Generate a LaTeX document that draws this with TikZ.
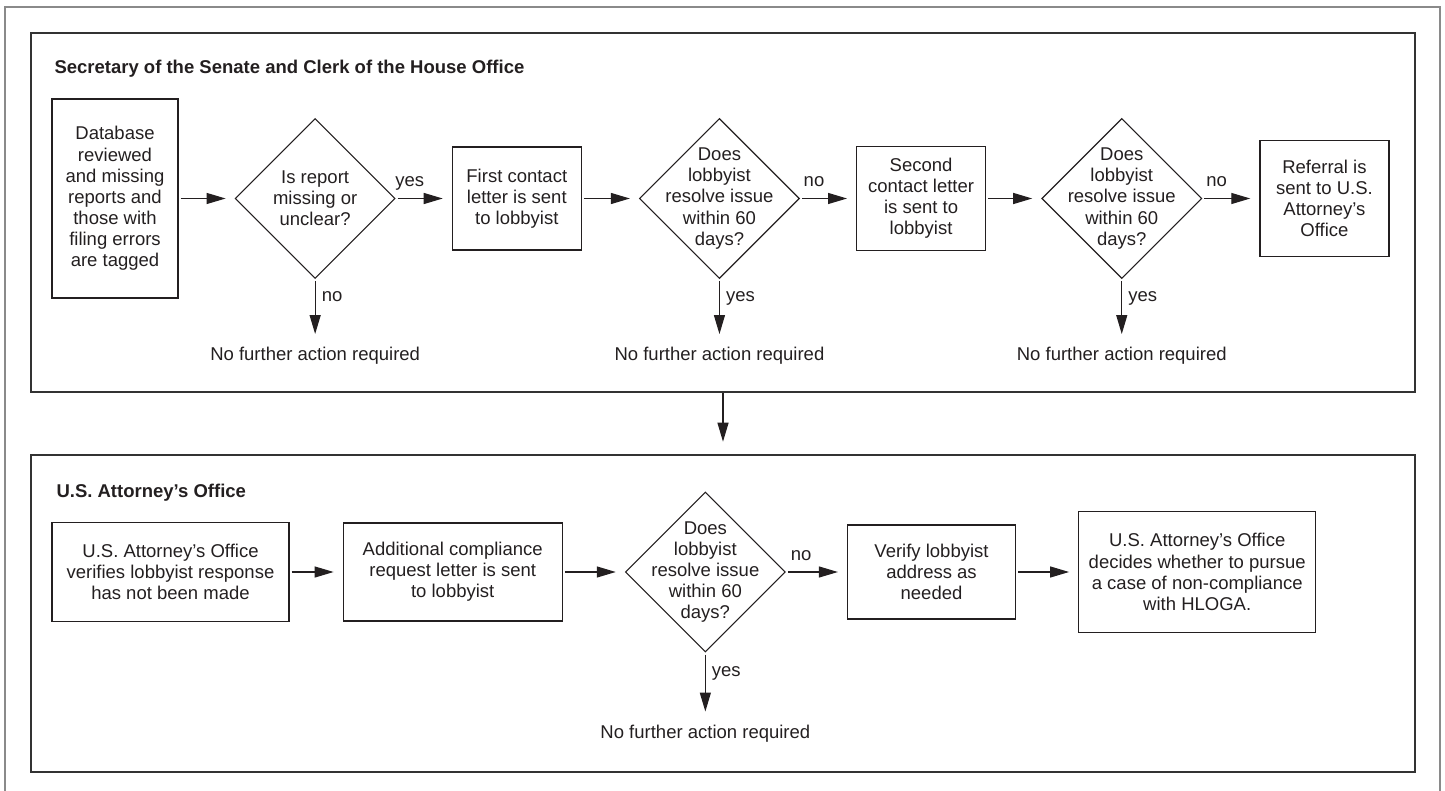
\documentclass[tikz,border=0pt]{standalone}
\usepackage{fontspec}
\setmainfont{Liberation Sans}
\usetikzlibrary{arrows.meta,positioning,shapes.geometric}
\definecolor{ink}{HTML}{231F20}
\definecolor{rule}{HTML}{333333}
\definecolor{framegray}{HTML}{8A8A8A}

\begin{document}
\begin{tikzpicture}[
  x=1pt, y=-1pt,
  font=\fontsize{18.5pt}{21.1pt}\selectfont,
  text=ink,
  box/.style={draw=ink, line width=1.2pt, align=center, inner sep=2pt},
  decision/.style={diamond, draw=ink, line width=1.1pt, align=center, minimum size=160pt, inner sep=-14pt},
  panel/.style={draw=rule, line width=2.6pt, inner sep=0pt},
  flow/.style={-{Triangle[length=19pt,width=11pt]}, line width=1.2pt, draw=ink, shorten >=9pt, shorten <=2pt},
  lbl/.style={inner sep=1pt, text depth=0pt},
  note/.style={inner sep=0pt},
  heading/.style={font=\fontsize{18.5pt}{21.1pt}\selectfont\bfseries}
]
\useasboundingbox (0,0) rectangle (1445,791);
\draw[framegray, line width=1.2pt] (5,7) rectangle (1440,800);

% Office panels
\node[panel, minimum width=1384pt, minimum height=359pt] (senate) at (723,212.5) {};
\node[panel, minimum width=1384pt, minimum height=317pt] (attorney) at (723,613.5) {};
\node[heading, anchor=base west] (senatetitle) at (51,74) {Secretary of the Senate and Clerk of the House Office};
\node[heading, anchor=base west] (attorneytitle) at (53,497) {U.S. Attorney’s Office};

% Senate and House steps
\node[box, minimum width=126pt, minimum height=199pt] (db) at (115,198.5) {Database\\reviewed\\and missing\\reports and\\those with\\filing errors\\are tagged};
\node[decision, right=56pt of db] (d1) {Is report\\missing or\\unclear?};
\node[box, minimum width=129pt, minimum height=103pt, right=56pt of d1] (first) {First contact\\letter is sent\\to lobbyist};
\node[decision, right=57pt of first] (d2) {Does\\lobbyist\\resolve issue\\within 60\\days?};
\node[box, minimum width=129pt, minimum height=104pt, right=56pt of d2] (second) {Second\\contact letter\\is sent to\\lobbyist};
\node[decision, right=55pt of second] (d3) {Does\\lobbyist\\resolve issue\\within 60\\days?};
\node[box, minimum width=129pt, minimum height=116pt, right=57pt of d3] (referral) {Referral is\\sent to U.S.\\Attorney’s\\Office};
\node[note, below=68pt of d1] (stop1) {No further action required};
\node[note, below=68pt of d2] (stop2) {No further action required};
\node[note, below=68pt of d3] (stop3) {No further action required};

% U.S. Attorney steps
\node[box, minimum width=237pt, minimum height=99pt] (verify) at (170.5,572) {U.S. Attorney’s Office\\verifies lobbyist response\\has not been made};
\node[box, minimum width=219pt, minimum height=98pt, right=53pt of verify] (request) {Additional compliance\\request letter is sent\\to lobbyist};
\node[decision, right=62pt of request] (d4) {Does\\lobbyist\\resolve issue\\within 60\\days?};
\node[box, minimum width=168pt, minimum height=94pt, right=61pt of d4] (address) {Verify lobbyist\\address as\\needed};
\node[box, minimum width=237pt, minimum height=121pt, right=62pt of address] (decide) {U.S. Attorney’s Office\\decides whether to pursue\\a case of non-compliance\\with HLOGA.};
\node[note, below=72pt of d4] (stop4) {No further action required};

% Flow
\draw[flow] (db) -- (d1);
\draw[flow] (d1) -- node[lbl, near start, above=10pt] {yes} (first);
\draw[flow] (first) -- (d2);
\draw[flow] (d2) -- node[lbl, near start, above=10pt] {no} (second);
\draw[flow] (second) -- (d3);
\draw[flow] (d3) -- node[lbl, near start, above=10pt] {no} (referral);
\draw[flow, shorten >=13pt] (d1) -- node[lbl, pos=.26, right=5pt] {no} (stop1);
\draw[flow, shorten >=13pt] (d2) -- node[lbl, pos=.26, right=5pt] {yes} (stop2);
\draw[flow, shorten >=13pt] (d3) -- node[lbl, pos=.26, right=5pt] {yes} (stop3);
\draw[flow, shorten >=12pt, shorten <=0pt] (senate) -- (attorney);
\draw[flow] (verify) -- (request);
\draw[flow] (request) -- (d4);
\draw[flow] (d4) -- node[lbl, near start, above=10pt] {no} (address);
\draw[flow] (address) -- (decide);
\draw[flow, shorten >=13pt] (d4) -- node[lbl, pos=.26, right=5pt] {yes} (stop4);
\end{tikzpicture}
\end{document}
